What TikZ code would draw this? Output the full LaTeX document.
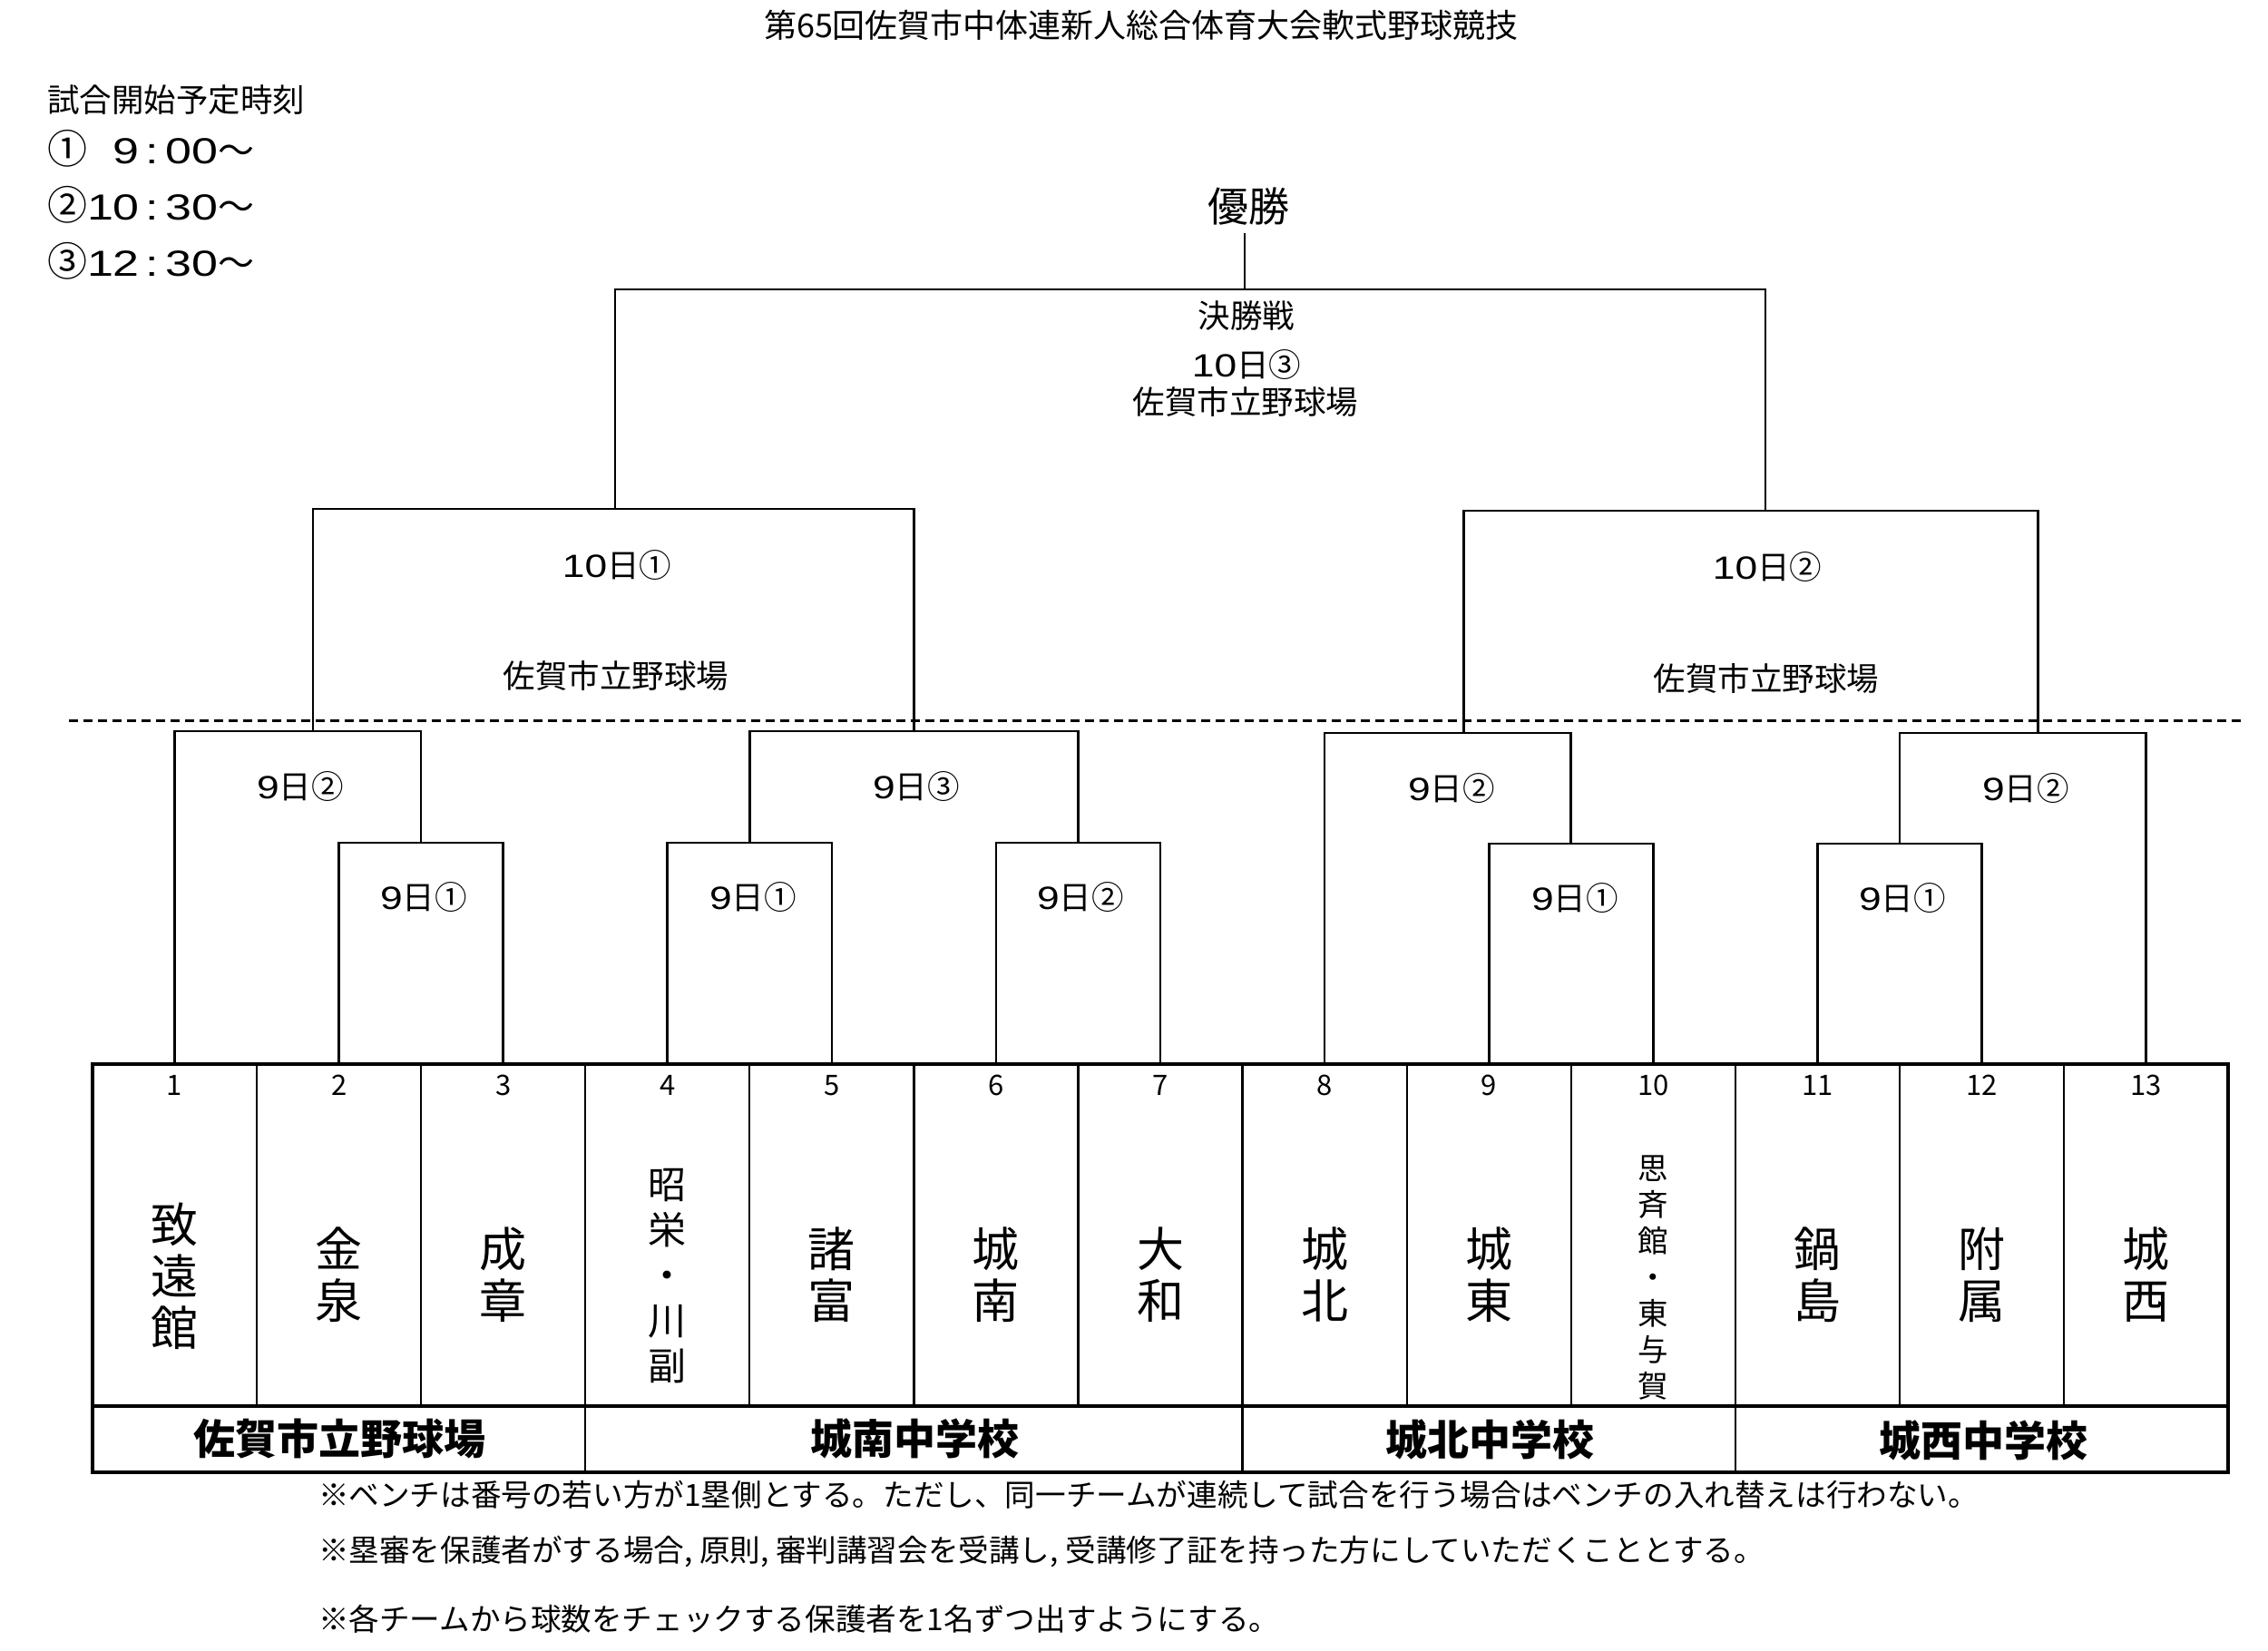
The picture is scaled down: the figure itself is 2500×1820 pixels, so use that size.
\documentclass[tikz,border=0pt]{standalone}
\usepackage{fontspec}
\usepackage{graphicx}
\setmainfont{Noto Sans CJK JP}
\newfontfamily\widedg{Liberation Sans}[FakeStretch=1.25]
\newfontfamily\clkdg{Liberation Sans}[FakeStretch=1.3]
\newcommand\dgt[1]{{\widedg #1}}
\newcommand\clk[2]{{\clkdg #1\kern7pt:\kern7pt#2}}
\tikzset{
  brk/.style={line width=2.6pt},
  tbl/.style={line width=2.2pt},
  tblo/.style={line width=3.2pt},
  sepline/.style={line width=3pt, dash pattern=on 10pt off 6pt},
  plain/.style={inner sep=0pt, outer sep=0pt},
  ttl/.style={plain, font=\fontsize{36}{40}\selectfont},
  lbl/.style={plain, font=\fontsize{35.5}{40}\selectfont},
  win/.style={plain, font=\fontsize{45}{50}\selectfont},
  num/.style={plain, font=\fontsize{31}{34}\selectfont},
  teamL/.style={plain, align=center, font=\fontsize{52}{57}\selectfont},
  teamM/.style={plain, align=center, font=\fontsize{42}{50}\selectfont},
  teamS/.style={plain, align=center, font=\fontsize{33.5}{40}\selectfont},
  grp/.style={plain, font=\fontsize{46}{50}\selectfont\bfseries},
  note/.style={plain, anchor=west, font=\fontsize{33.6}{38}\selectfont},
  timeline/.style={plain, anchor=west},
}
\begin{document}
\begin{tikzpicture}[x=1pt,y=-1pt]
\useasboundingbox (0,0) rectangle (2500,1820);
\fill[white] (0,0) rectangle (2500,1820);

% ---- header ----
\node[ttl] (title) at (1258,27.5) {第65回佐賀市中体連新人総合体育大会軟式野球競技};
\node[lbl, anchor=west] (tlabel) at (52,110) {試合開始予定時刻};
\node[timeline] (time1) at (52,164) {{\fontsize{44}{48}\selectfont ①}{\fontsize{40}{44}\selectfont\hphantom{\clkdg 0}\clk{9}{00}～}};
\node[timeline] (time2) at (52,226) {{\fontsize{44}{48}\selectfont ②}{\fontsize{40}{44}\selectfont\clk{10}{30}～}};
\node[timeline] (time3) at (52,288) {{\fontsize{44}{48}\selectfont ③}{\fontsize{40}{44}\selectfont\clk{12}{30}～}};

% ---- separator ----
\coordinate (dl) at (76,794);
\coordinate (dr) at (2470,794);
\draw[sepline] (dl) -- (dr);

% ---- team anchor points ----
\foreach \i in {1,...,13}{
  \coordinate (t\i) at ({102+181.08*(\i-0.5)},1173);
}

% ---- level 1 ----
\coordinate (mA) at (464.16,929);
\coordinate (mB) at (826.32,929);
\coordinate (mC) at (1188.48,929);
\coordinate (mD) at (1731.72,930);
\coordinate (mE) at (2093.88,930);
\draw[brk] (t2) |- (mA) -| (t3);
\draw[brk] (t4) |- (mB) -| (t5);
\draw[brk] (t6) |- (mC) -| (t7);
\draw[brk] (t9) |- (mD) -| (t10);
\draw[brk] (t11) |- (mE) -| (t12);

% ---- level 2 ----
\coordinate (mF) at (328.35,806);
\coordinate (mG) at (1007.4,806);
\coordinate (mH) at (1595.9,808);
\coordinate (mI) at (2229.7,808);
\draw[brk] (t1) |- (mF) -| (mA);
\draw[brk] (mB) |- (mG) -| (mC);
\draw[brk] (t8) |- (mH) -| (mD);
\draw[brk] (mE) |- (mI) -| (t13);

% ---- level 3 ----
\coordinate (jL) at (345,806);
\coordinate (mJ) at (676,561);
\coordinate (kL) at (1613.5,808);
\coordinate (kR) at (2246.5,808);
\coordinate (mK) at (1930,563);
\draw[brk] (jL) |- (mJ) -| (mG);
\draw[brk] (kL) |- (mK) -| (kR);

% ---- final ----
\coordinate (fL) at (678,561);
\coordinate (fR) at (1946,563);
\coordinate (mX) at (1372,319);
\draw[brk] (fL) |- (mX) -| (fR);
\coordinate (wB) at (1372,257);
\draw[brk] (mX) -- (wB);
\node[win] (winner) at (1376,227) {優勝};

% ---- match labels ----
\node[lbl] (finA) at (1374,348) {決勝戦};
\node[lbl] (finB) at (1374,402) {\dgt{10}日③};
\node[lbl] (finC) at (1373,443) {佐賀市立野球場};
\node[lbl] (jA) at (680,623) {\dgt{10}日①};
\node[lbl] (jB) at (679,745) {佐賀市立野球場};
\node[lbl] (kA) at (1948,625) {\dgt{10}日②};
\node[lbl] (kB) at (1947,748) {佐賀市立野球場};
\node[lbl] (lF) at (331,867) {\dgt{9}日②};
\node[lbl] (lG) at (1010,867) {\dgt{9}日③};
\node[lbl] (lH) at (1600,869) {\dgt{9}日②};
\node[lbl] (lI) at (2233,869) {\dgt{9}日②};
\node[lbl] (lA) at (467,989) {\dgt{9}日①};
\node[lbl] (lB) at (830,989) {\dgt{9}日①};
\node[lbl] (lC) at (1191,989) {\dgt{9}日②};
\node[lbl] (lD) at (1736,990) {\dgt{9}日①};
\node[lbl] (lE) at (2097,990) {\dgt{9}日①};

% ---- table ----
\draw[tblo] (102,1173) rectangle (2456,1623);
\draw[tblo] (102,1550) -- (2456,1550);
\foreach \k in {1,...,12}{
  \draw[tbl] ({102+181.08*\k},1173) -- ({102+181.08*\k},1550);
}
\foreach \x in {645.24,1369.56,1912.8}{
  \draw[tbl] (\x,1550) -- (\x,1623);
}
\foreach \i in {1,...,13}{
  \node[num] (n\i) at ({102+181.08*(\i-0.5)},1196.5) {\i};
}

% ---- teams ----
\node[teamL] (s1) at (192.54,1407) {致\\遠\\館};
\node[teamL] (s2) at (373.62,1405) {金\\泉};
\node[teamL] (s3) at (554.70,1405) {成\\章};
\node[teamM] (s4) at (735.78,1407) {昭\\栄\\・\\川\\副};
\node[teamL] (s5) at (916.86,1405) {諸\\富};
\node[teamL] (s6) at (1097.94,1405) {城\\南};
\node[teamL] (s7) at (1279.02,1405) {大\\和};
\node[teamL] (s8) at (1460.10,1405) {城\\北};
\node[teamL] (s9) at (1641.18,1405) {城\\東};
\node[teamS] (s10) at (1822.26,1409) {思\\斉\\館\\・\\東\\与\\賀};
\node[teamL] (s11) at (2003.34,1405) {鍋\\島};
\node[teamL] (s12) at (2184.42,1405) {附\\属};
\node[teamL] (s13) at (2365.50,1405) {城\\西};

% ---- venues ----
\node[grp] (g1) at (374,1586) {佐賀市立野球場};
\node[grp] (g2) at (1008,1586) {城南中学校};
\node[grp] (g3) at (1642,1587) {城北中学校};
\node[grp] (g4) at (2186,1588) {城西中学校};

% ---- notes ----
\node[note] (r1) at (351,1648) {※ベンチは番号の若い方が1塁側とする。ただし、同一チームが連続して試合を行う場合はベンチの入れ替えは行わない。};
\node[note] (r2) at (351,1710) {※塁審を保護者がする場合, 原則, 審判講習会を受講し, 受講修了証を持った方にしていただくこととする。};
\node[note] (r3) at (351,1785) {※各チームから球数をチェックする保護者を1名ずつ出すようにする。};
\end{tikzpicture}
\end{document}
